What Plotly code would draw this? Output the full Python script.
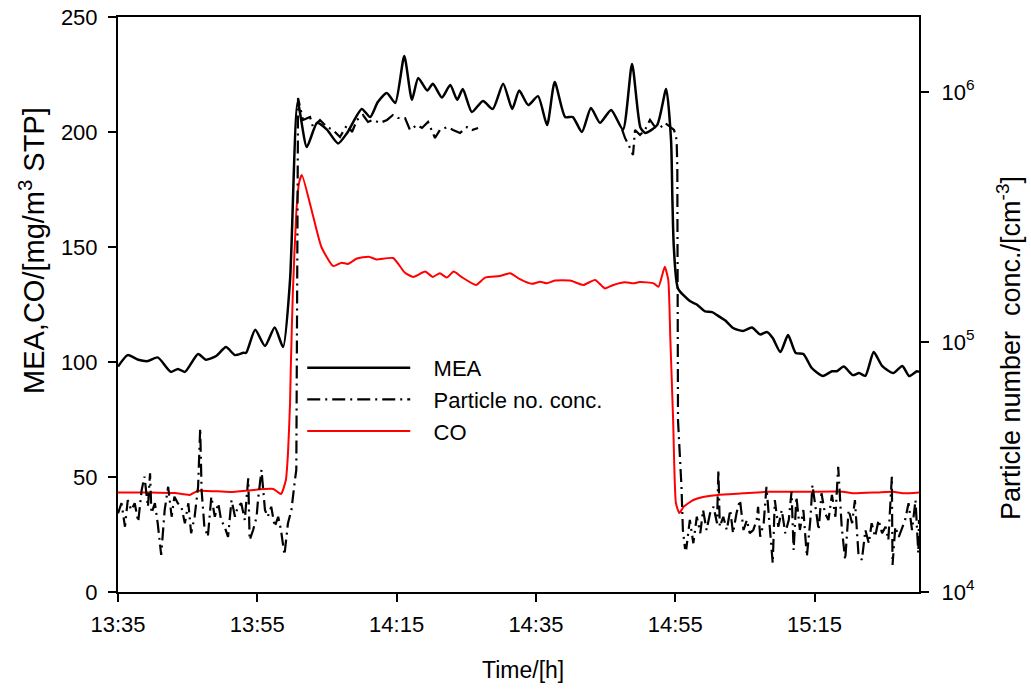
import plotly.graph_objects as go

# ---- data (time in minutes after 13:35) ----
mea_t = [0.0, 1.4, 2.9, 4.3, 5.7, 7.6, 8.6, 9.6, 11.5, 12.6, 14.1, 15.5, 16.8, 18.0, 18.4,
         19.7, 21.1, 22.5, 23.7, 24.7, 25.8, 27.1, 28.6, 30.0, 31.6, 32.9, 35.0, 36.2, 37.3,
         38.6, 39.8, 41.1, 42.2, 43.1, 44.4, 45.2, 46.5, 47.7, 48.7, 49.5, 50.8, 52.4, 53.8,
         55.3, 56.6, 57.6, 58.9, 60.3, 61.6, 62.7, 64.2, 65.3, 66.6, 67.9, 69.2, 70.8, 72.5,
         73.8, 75.0, 75.7, 77.4, 78.7, 79.4, 79.6, 79.8, 80.4, 82.1, 83.1, 84.3, 85.3, 86.4,
         87.2, 88.3, 89.7, 91.0, 92.2, 93.2, 94.0, 95.1, 96.2, 97.3, 98.4, 99.6, 101.2, 102.5,
         103.2, 104.2, 105.5, 106.4, 107.3, 108.5, 109.7, 111.3, 112.6, 113.6, 114.7, 115.0]
mea_v = [98, 103, 101, 100.4, 102, 95.7, 97, 95.7, 103.5, 101, 102.6, 106.5, 103, 104, 104,
         114, 107, 115, 106.5, 135.6, 213, 193.5, 204, 201, 195, 199.6, 210, 206.5, 213,
         217, 212.6, 233, 214, 223.5, 218, 221, 215, 220.4, 214, 218.7, 208.7, 213.5, 210,
         221, 210, 218, 211.7, 215.6, 203, 221.7, 206.5, 206.5, 200, 210.4, 204, 209.6, 201,
         229.6, 202, 199.6, 203, 218.7, 196.5, 170, 150, 132, 126.5, 125, 122, 121.7, 119.6,
         118, 114.8, 113.5, 115, 112, 113, 110.4, 104.3, 111.7, 103.9, 103.5, 97.4, 93.9, 96,
         96, 98, 94.3, 95.2, 94, 104.3, 98.3, 95.2, 98.3, 93.9, 96, 95.7]

co_t = [0.0, 4.6, 8.2, 10.3, 11.5, 16.1, 22.3, 23.4, 24.1, 24.4, 24.7, 24.8, 25.1, 25.6, 26.0,
        26.4, 27.8, 29.2, 30.9, 32.1, 33.0, 34.3, 36.0, 37.1, 39.5, 41.2, 42.4, 44.1, 45.2,
        46.2, 47.2, 48.2, 49.3, 51.4, 52.7, 54.8, 56.3, 57.7, 59.4, 60.6, 61.6, 62.7, 64.9,
        66.8, 68.5, 69.9, 71.1, 72.8, 74.0, 74.9, 76.9, 77.6, 78.5, 79.0, 79.3, 79.7, 80.1,
        80.6, 81.2, 82.6, 84.0, 86.1, 89.7, 93.2, 99.4, 104.1, 105.5, 109.0, 111.3, 112.7, 115.0]
co_v = [43.3, 43.3, 43.0, 42.2, 44.0, 43.5, 44.8, 42.6, 48.7, 60, 82, 96.5, 130, 165, 178,
        181.3, 166, 150, 141.7, 143.2, 142.6, 145, 145.8, 144.6, 145.2, 138.8, 137, 139.3, 137,
        138.6, 136.7, 139.3, 137, 133.5, 136.7, 137.4, 138.6, 136, 134, 134.9, 134.2, 135.4, 135.4,
        133.5, 135.7, 132, 133.5, 134.7, 134.2, 134.8, 134.2, 132.7, 141.4, 135.7, 110, 74.8, 38.7,
        34.3, 37, 40, 41.3, 42.2, 42.9, 43.6, 43.6, 43.6, 42.9, 43.3, 43.6, 42.9, 43.3]

pn_t = [0.0, 0.5, 1.0, 1.4, 1.9, 2.4, 2.9, 3.4, 3.8, 4.3, 4.6, 4.8, 5.3, 5.7, 6.2, 6.7, 7.2,
        7.7, 8.1, 8.6, 9.1, 9.6, 10.1, 10.5, 11.0, 11.5, 11.8, 12.0, 12.4, 12.9, 13.4, 13.9,
        14.4, 14.8, 15.3, 15.8, 16.3, 16.8, 17.2, 17.7, 18.2, 18.7, 18.9, 19.4, 19.9, 20.1,
        20.6, 21.1, 21.5, 22.0, 22.5, 23.0, 23.4, 23.9, 24.4, 24.9, 25.4, 25.6,
        25.85, 26.56, 27.57, 28.0, 29.0, 30.0, 30.87, 31.87, 32.88, 33.6, 34.31, 35.18, 35.89,
        36.61, 37.62, 38.62, 39.48, 40.2, 41.21, 41.92, 42.93, 43.65, 44.51, 45.51, 46.23,
        47.24, 48.1, 49.1, 50.11, 50.83, 51.69, 52.0,
        72.36, 72.79, 73.51, 73.94, 74.23, 74.95, 75.66, 76.38, 77.1, 77.82, 78.54, 79.25,
        79.83, 80.2, 80.3, 80.4, 80.9, 81.1, 81.4,
        81.6, 82.1, 82.6, 83.1, 83.6, 84.0, 84.5, 85.0, 85.5, 86.0, 86.2, 86.4, 86.9, 87.4,
        87.9, 88.3, 88.8, 89.3, 89.8, 90.3, 90.7, 91.2, 91.7, 91.9, 92.2, 92.7, 93.1, 93.6,
        94.0, 94.3, 94.8, 95.3, 95.8, 96.3, 96.7, 97.0, 97.4, 97.9, 98.4, 98.9, 99.4, 99.7,
        100.1, 100.6, 101.0, 101.5, 102.0, 102.5, 103.0, 103.4, 103.9, 104.4, 104.9, 105.4,
        105.8, 106.3, 106.8, 107.3, 107.8, 108.2, 108.7, 109.2, 109.7, 110.2, 110.6, 111.1,
        111.2, 111.6, 112.1, 112.5, 113.0, 113.5, 114.0, 114.5, 114.9, 115.0]
pn_v = [20650, 22650, 18240, 23330, 21280, 22650, 19100, 25590, 28910, 21930, 29850, 20650,
        22650, 18840, 14060, 21280, 26360, 20000, 24040, 22650, 21930, 18840, 22650, 17180,
        20000, 26360, 45190, 25590, 18240, 16630, 24040, 20000, 22650, 19410, 18240, 16630,
        23330, 20000, 21930, 22650, 19410, 28510, 16140, 17700, 20000, 23330, 30760, 21280,
        20000, 21930, 18240, 20000, 17700, 14060, 18840, 21280, 28050, 30760,
        946000, 773000, 794000, 724000, 773000, 724000, 705000, 661000, 738000, 692000, 773000,
        809000, 759000, 773000, 752000, 773000, 809000, 787000, 787000, 705000, 738000, 718000,
        759000, 655000, 705000, 724000, 705000, 686000, 724000, 705000, 718000, None,
        708000, 655000, 597000, 560000, 705000, 673000, 705000, 773000, 724000, 718000, 752000,
        724000, 705000, 646000, 501000, 48750, 26300, 17700, 15000,
        14960, 19410, 15670, 20000, 17180, 21280, 17700, 20650, 21930, 18840, 30760, 18240,
        20000, 17700, 21280, 17180, 20650, 23330, 17700, 19410, 17180, 17700, 19410, 21930,
        16630, 18840, 26360, 17700, 13030, 23330, 18240, 21280, 17180, 19410, 25180, 14720,
        24040, 17700, 21280, 13840, 19410, 26790, 21930, 17700, 24830, 20650, 19410, 24430,
        20000, 31700, 18240, 13430, 21280, 18840, 23330, 14290, 13430, 17700, 15670, 18840,
        16630, 19410, 17180, 18240, 16140, 28910, 12820, 18240, 16630, 17700, 19410, 22650,
        17700, 23330, 14290, 19410]

x_tickvals = [0, 20, 40, 60, 80, 100]
x_ticktext = ["13:35", "13:55", "14:15", "14:35", "14:55", "15:15"]
y_tickvals = [0, 50, 100, 150, 200, 250]
y2_tickvals = [1e4, 1e5, 1e6]
y2_ticktext = ["10<sup>4</sup>", "10<sup>5</sup>", "10<sup>6</sup>"]
series_names = ["MEA", "Particle no. conc.", "CO"]
x_title = "Time/[h]"
y_title = "MEA,CO/[mg/m<sup>3</sup> STP]"
y2_title = "Particle number  conc./[cm<sup>-3</sup>]"

FONT = "Liberation Sans, Arial, sans-serif"
PAD = "\u00a0\u00a0\u00a0"
W, H = 1031, 692
ML, MR, MT, MB = 118, 112, 17, 100

fig = go.Figure()
fig.add_trace(go.Scatter(x=mea_t, y=mea_v, name=PAD + series_names[0], mode="lines", legendgroup="a",
                         line=dict(color="black", width=2.5, shape="spline", smoothing=0.6)))
fig.add_trace(go.Scatter(x=pn_t, y=pn_v, name=PAD + series_names[1], mode="lines", legendgroup="b",
                         yaxis="y2", connectgaps=False,
                         line=dict(color="black", width=2.2, dash="13px,5px,2px,5px")))
fig.add_trace(go.Scatter(x=co_t, y=co_v, name=PAD + series_names[2], mode="lines", legendgroup="c",
                         line=dict(color="red", width=2, shape="spline", smoothing=0.5)))

axis_common = dict(showline=True, linecolor="black", linewidth=2, ticks="outside", ticklen=8,
                   tickwidth=1.5, tickcolor="black", showgrid=False, zeroline=False,
                   automargin=False,
                   tickfont=dict(family=FONT, size=22, color="black"))

pw = W - ML - MR
ph = H - MT - MB


def px_x(px):
    return (px - ML) / pw


def px_y(py):
    return 1 - (py - MT) / ph


fig.update_layout(
    width=W, height=H,
    margin=dict(l=ML, r=MR, t=MT, b=MB, autoexpand=False),
    paper_bgcolor="white", plot_bgcolor="white",
    font=dict(family=FONT, size=22, color="black"),
    xaxis=dict(range=[0, 115], tickvals=x_tickvals, ticktext=x_ticktext, mirror=True,
               ticklabelstandoff=4, **axis_common),
    yaxis=dict(range=[0, 250], tickvals=y_tickvals, mirror=True,
               ticklabelstandoff=6, **axis_common),
    yaxis2=dict(type="log", range=[4, 6.3], overlaying="y", side="right",
                tickvals=y2_tickvals, ticktext=y2_ticktext, ticklabelstandoff=8,
                **axis_common),
    legend=dict(x=0.23, y=0.426, xanchor="left", yanchor="top", bgcolor="rgba(0,0,0,0)",
                itemwidth=103, tracegroupgap=0, traceorder="grouped",
                font=dict(family=FONT, size=22, color="black")),
    showlegend=True,
    annotations=[
        dict(text=x_title, xref="paper", yref="paper", x=px_x(523), y=px_y(670),
             xanchor="center", yanchor="middle", showarrow=False,
             font=dict(family=FONT, size=23, color="black")),
        dict(text=y_title, xref="paper", yref="paper", x=px_x(32), y=px_y(251),
             xanchor="center", yanchor="middle", showarrow=False, textangle=-90,
             font=dict(family=FONT, size=29, color="black")),
        dict(text=y2_title, xref="paper", yref="paper", x=px_x(1009), y=px_y(348),
             xanchor="center", yanchor="middle", showarrow=False, textangle=-90,
             font=dict(family=FONT, size=27, color="black")),
    ],
)

fig.write_html("out.html")
